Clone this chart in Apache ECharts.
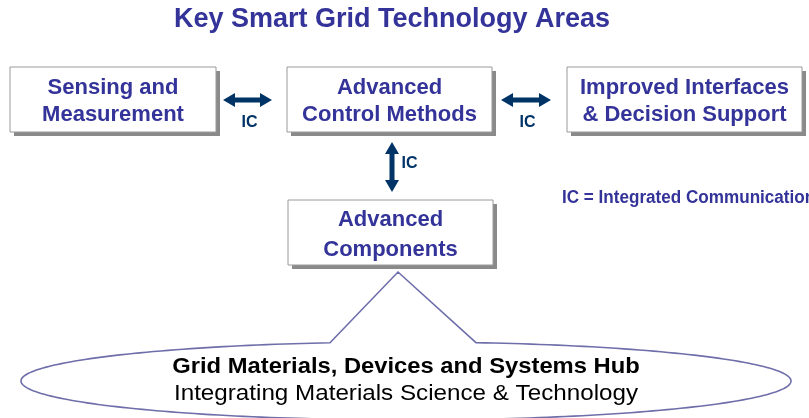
<!DOCTYPE html>
<html>
<head>
<meta charset="utf-8">
<script src="https://cdn.jsdelivr.net/npm/echarts@6/dist/echarts.min.js"></script>
<style>html,body{margin:0;padding:0;background:#fff;}#c{width:809px;height:418px;}</style>
</head>
<body>
<div id="c"></div>
<script>
// ---- content ----
const titleText = 'Key Smart Grid Technology Areas';
const boxNames = ['Sensing and\nMeasurement', 'Advanced\nControl Methods', 'Improved Interfaces\n& Decision Support', 'Advanced\nComponents'];
const linkLabels = ['IC', 'IC', 'IC'];
const legendText = 'IC = Integrated Communication';
const hubLines = ['Grid Materials, Devices and Systems Hub', 'Integrating Materials Science & Technology'];

// ---- layout (separate from content) ----
const boxRects = [
  {x: 10, y: 67, w: 206, h: 65, gap: 27, dy: 1.5},
  {x: 287, y: 67, w: 205, h: 65, gap: 27, dy: 1.5},
  {x: 567, y: 67, w: 235, h: 65, gap: 27, dy: 1.5},
  {x: 288, y: 200, w: 205, h: 65, gap: 30, dy: 2}
];
const arrows = [
  {x1: 223, y1: 100, x2: 272, y2: 100, lx: 249.5, ly: 123},
  {x1: 501, y1: 100, x2: 551, y2: 100, lx: 527.5, ly: 123},
  {x1: 392, y1: 142, x2: 392, y2: 192, lx: 409.5, ly: 164}
];
const hub = {cx: 406, cy: 381, rx: 385, ry: 39, apexX: 398, apexY: 272, baseL: 330, baseR: 476};
const hubText = [{y: 367, scaleX: 1.08, weight: 'bold'}, {y: 394, scaleX: 1.1, weight: 'normal'}];

const BLUE = '#333399', NAVY = '#003366', LINE = '#6e6eaa';
const FONT = 'Liberation Sans, Arial, Helvetica, sans-serif';

function doubleArrow(a) {
  const dx = a.x2 - a.x1, dy = a.y2 - a.y1, L = Math.hypot(dx, dy);
  const ux = dx / L, uy = dy / L, nx = -uy, ny = ux;
  const hl = 12, hw = 7, sw = 2.5;
  const P = (t, s) => [a.x1 + ux * t + nx * s, a.y1 + uy * t + ny * s];
  const pts = [P(0, 0), P(hl, hw), P(hl, sw), P(L - hl, sw), P(L - hl, hw), P(L, 0),
               P(L - hl, -hw), P(L - hl, -sw), P(hl, -sw), P(hl, -hw)];
  return {type: 'polygon', shape: {points: pts}, style: {fill: NAVY}};
}

const elements = [];
elements.push({type: 'text', style: {text: titleText, x: 392, y: 20, textAlign: 'center', textVerticalAlign: 'middle',
  fontSize: 27, fontWeight: 'bold', fontFamily: FONT, fill: BLUE}});

boxRects.forEach((r, i) => {
  elements.push({type: 'rect', shape: {x: r.x + 4, y: r.y + 4, width: r.w, height: r.h}, style: {fill: '#8a8a8a'}});
  elements.push({type: 'rect', shape: {x: r.x, y: r.y, width: r.w, height: r.h}, style: {fill: '#fff', stroke: '#9a9a9a', lineWidth: 1}});
  const lines = boxNames[i].split('\n');
  lines.forEach((t, k) => {
    elements.push({type: 'text', style: {text: t, x: r.x + r.w / 2, y: r.y + r.h / 2 + r.dy + (k - 0.5) * r.gap,
      textAlign: 'center', textVerticalAlign: 'middle', fontSize: 22, fontWeight: 'bold', fontFamily: FONT, fill: BLUE}});
  });
});

arrows.forEach((a, i) => {
  elements.push(doubleArrow(a));
  elements.push({type: 'text', style: {text: linkLabels[i], x: a.lx, y: a.ly, textAlign: 'center', textVerticalAlign: 'middle',
    fontSize: 16, fontWeight: 'bold', fontFamily: FONT, fill: NAVY}});
});

elements.push({type: 'text', x: 562, y: 198, scaleX: 0.95, style: {text: legendText, x: 0, y: 0, textAlign: 'left', textVerticalAlign: 'middle',
  fontSize: 18, fontWeight: 'bold', fontFamily: FONT, fill: BLUE}});

// callout: ellipse outline with a triangular pointer (geometry sampled from the ellipse parameters)
const angOf = x => Math.atan2(-Math.sqrt(1 - Math.pow((x - hub.cx) / hub.rx, 2)), (x - hub.cx) / hub.rx);
const aR = angOf(hub.baseR), aL = angOf(hub.baseL);
const calloutPts = [];
const N = 240;
const start = aR, end = aL + 2 * Math.PI;
for (let i = 0; i <= N; i++) {
  const t = start + (end - start) * i / N;
  calloutPts.push([hub.cx + hub.rx * Math.cos(t), hub.cy + hub.ry * Math.sin(t)]);
}
calloutPts.push([hub.apexX, hub.apexY]);
elements.push({type: 'polygon', shape: {points: calloutPts}, style: {fill: '#fff', stroke: LINE, lineWidth: 1.6}});

hubLines.forEach((t, k) => {
  const h = hubText[k];
  elements.push({type: 'text', x: 406, y: h.y, scaleX: h.scaleX, style: {text: t, x: 0, y: 0, textAlign: 'center', textVerticalAlign: 'middle',
    fontSize: 22, fontWeight: h.weight, fontFamily: FONT, fill: '#000'}});
});

const chart = echarts.init(document.getElementById('c'), null, {renderer: 'canvas'});
chart.setOption({animation: false, graphic: {elements: elements}});
</script>
</body>
</html>
